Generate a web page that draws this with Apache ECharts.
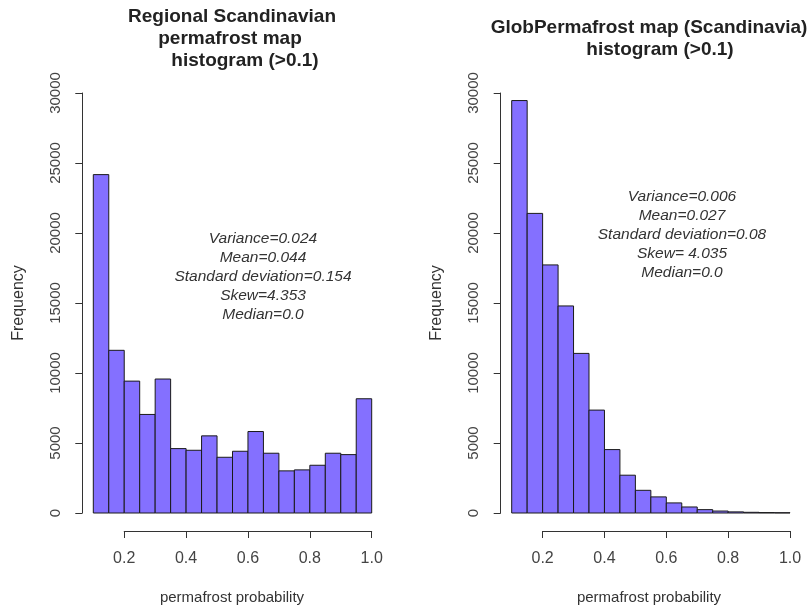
<!DOCTYPE html>
<html>
<head>
<meta charset="utf-8">
<script src="https://cdn.jsdelivr.net/npm/echarts@6/dist/echarts.min.js"></script>
<style>html,body{margin:0;padding:0;background:#fff}#c{width:811px;height:609px}</style>
</head>
<body>
<div id="c"></div>
<script>
// Bin edges (shared by both histograms): 0.10, 0.15, ..., 1.00
const binStarts = [0.10,0.15,0.20,0.25,0.30,0.35,0.40,0.45,0.50,0.55,0.60,0.65,0.70,0.75,0.80,0.85,0.90,0.95];
const binWidth = 0.05;
// Regional Scandinavian permafrost map frequencies
const regionalCounts = [24170,11620,9420,7040,9570,4600,4480,5510,3980,4410,5820,4270,3010,3080,3410,4270,4170,8160];
// GlobPermafrost map (Scandinavia) frequencies
const globCounts = [29460,21400,17720,14790,11400,7350,4530,2700,1620,1150,720,430,240,140,80,50,30,20];
const yTicks = [0,5000,10000,15000,20000,25000,30000];
const xTicks = [0.2,0.4,0.6,0.8,1.0];
const leftTitle = ['Regional Scandinavian','permafrost map','histogram (>0.1)'];
const rightTitle = ['GlobPermafrost map (Scandinavia)','histogram (>0.1)'];
const leftStats = ['Variance=0.024','Mean=0.044','Standard deviation=0.154','Skew=4.353','Median=0.0'];
const rightStats = ['Variance=0.006','Mean=0.027','Standard deviation=0.08','Skew= 4.035','Median=0.0'];

const FONT = 'Liberation Sans, Arial, sans-serif';
const AX = '#333';
const BAR = '#8470FF';

function histData(counts){ return binStarts.map((s,i)=>[s, s+binWidth, counts[i]]); }
function renderBar(params, api){
  const p0 = api.coord([api.value(0), api.value(2)]);
  const p1 = api.coord([api.value(1), 0]);
  return {type:'rect', shape:{x:p0[0], y:p0[1], width:p1[0]-p0[0], height:p1[1]-p0[1]},
    style:{fill:BAR, stroke:'#1a1a1a', lineWidth:1}};
}

const chart = echarts.init(document.getElementById('c'), null, {renderer:'canvas'});
const grids = [
  {left:93.3, top:93, width:278.4, height:420},
  {left:124.2, top:530, width:247.5, height:1},
  {left:511.7, top:93, width:278.3, height:420},
  {left:542.6, top:530, width:247.4, height:1}
];
function mainX(gi){ return {gridIndex:gi, type:'value', min:0.1, max:1.0, show:false}; }
function tickX(gi){ return {gridIndex:gi, type:'value', min:0.2, max:1.0, interval:0.2,
  axisLine:{show:true, lineStyle:{color:AX, width:1}}, axisTick:{show:true, length:7, lineStyle:{color:AX}},
  splitLine:{show:false},
  axisLabel:{margin:20, fontSize:16, color:'#444', fontFamily:FONT, formatter:v=>v.toFixed(1)}}; }
function mainY(gi){ return {gridIndex:gi, type:'value', min:0, max:30000, interval:5000, offset:11,
  axisLine:{show:true, lineStyle:{color:AX, width:1}}, axisTick:{show:true, length:7, lineStyle:{color:AX}},
  splitLine:{show:false},
  axisLabel:{rotate:90, margin:19, fontSize:15, color:'#444', fontFamily:FONT, formatter:v=>String(v)},
  name:'Frequency', nameLocation:'middle', nameRotate:90, nameGap:56,
  nameTextStyle:{fontSize:16, color:'#333', fontFamily:FONT}}; }
function hiddenY(gi){ return {gridIndex:gi, type:'value', show:false}; }

const graphics = [];
function addText(text, x, y, font, color){
  graphics.push({type:'text', x:x, y:y, style:{text:text, x:0, y:0, textAlign:'center', textVerticalAlign:'middle', font:font, fill:color||'#222'}});
}
addText(leftTitle[0], 232, 17, 'bold 19px '+FONT);
addText(leftTitle[1], 230, 39, 'bold 19px '+FONT);
addText(leftTitle[2], 245, 61, 'bold 19px '+FONT);
addText(rightTitle[0], 649, 28, 'bold 19px '+FONT);
addText(rightTitle[1], 660, 50, 'bold 19px '+FONT);
leftStats.forEach((t,i)=>addText(t, 263, 239+i*19, 'italic 15.5px '+FONT, '#333'));
rightStats.forEach((t,i)=>addText(t, 682, 197+i*19, 'italic 15.5px '+FONT, '#333'));
addText('permafrost probability', 232, 598, '15px '+FONT, '#333');
addText('permafrost probability', 649, 598, '15px '+FONT, '#333');

chart.setOption({
  animation:false,
  backgroundColor:'#fff',
  grid:grids,
  xAxis:[mainX(0), tickX(1), mainX(2), tickX(3)],
  yAxis:[mainY(0), hiddenY(1), mainY(2), hiddenY(3)],
  series:[
    {type:'custom', xAxisIndex:0, yAxisIndex:0, renderItem:renderBar, data:histData(regionalCounts), encode:{x:[0,1], y:2}},
    {type:'custom', xAxisIndex:2, yAxisIndex:2, renderItem:renderBar, data:histData(globCounts), encode:{x:[0,1], y:2}}
  ],
  graphic:graphics
});
</script>
</body>
</html>
